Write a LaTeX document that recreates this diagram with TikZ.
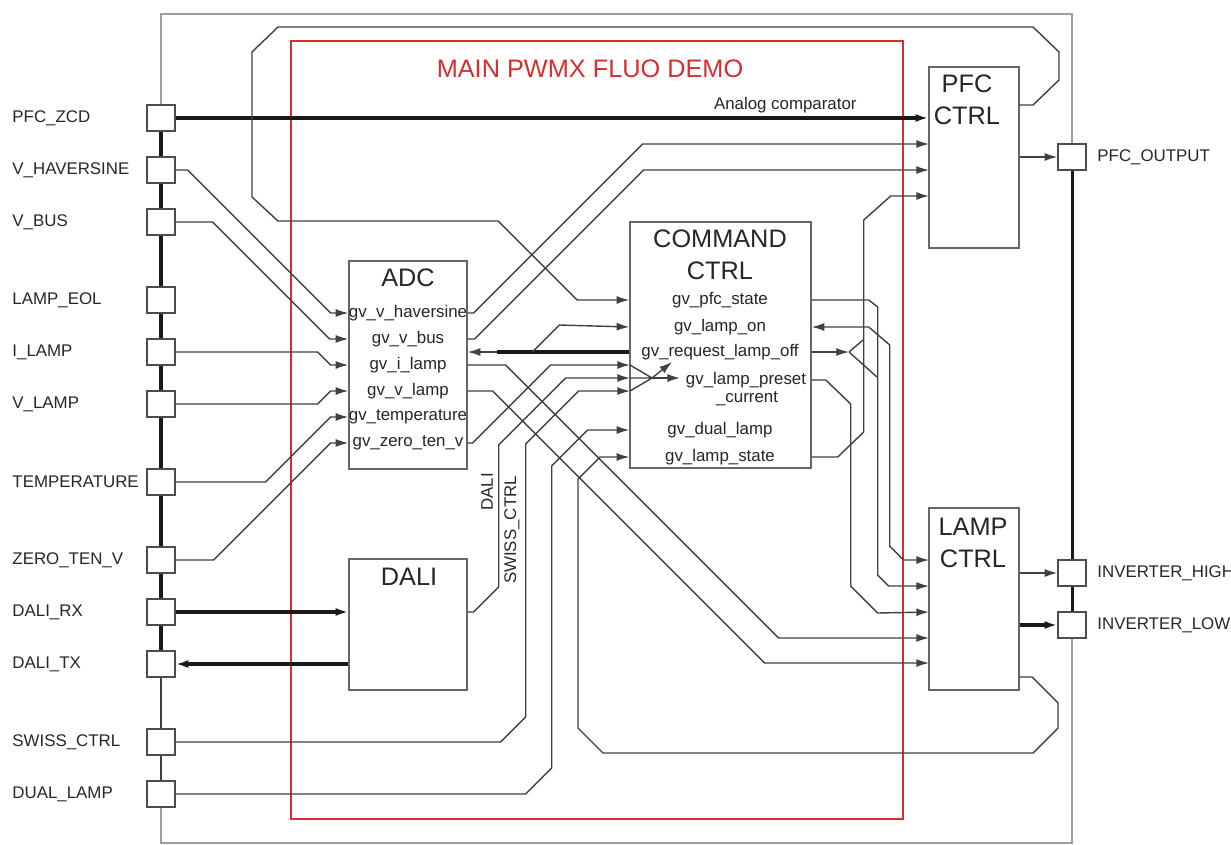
\documentclass[tikz,border=0pt]{standalone}
\usepackage{fontspec}
\setmainfont{Liberation Sans}
\usepackage{tikz}
\usetikzlibrary{arrows.meta, positioning}

\definecolor{demored}{RGB}{214,45,45}

\begin{document}
\begin{tikzpicture}[
    x=0.15mm, y=-0.15mm,
    font=\fontsize{7.2}{8.6}\selectfont,
    blk/.style={draw=black!60, line width=0.6pt, fill=white, inner sep=0pt},
    ttl/.style={font=\fontsize{10.8}{13.6}\selectfont, text=black!85, align=center, inner sep=0pt},
    port/.style={draw=black!70, line width=0.6pt, fill=white, minimum width=4.2mm,
                 minimum height=3.9mm, inner sep=0pt},
    plab/.style={anchor=west, text=black!85, inner sep=0pt},
    sig/.style={text=black!85, inner sep=0pt},
    wire/.style={draw=black!75, line width=0.6pt},
    thk/.style={draw=black!90, line width=1.3pt},
    arr/.style={-{Latex[length=1.9mm, width=1.2mm]}}
]

\useasboundingbox (0,0) rectangle (1231,844);

% chip outline and demo frame
\draw[black!38, line width=0.6pt] (161,14) rectangle (1072,843);
\draw[demored, line width=0.6pt] (291,41) rectangle (903,819);
\node[ttl, text=demored] (demo) at (590,69) {MAIN PWMX FLUO DEMO};

% pins
\foreach \nm/\txt/\yy in {zcd/PFC\_ZCD/118, hav/V\_HAVERSINE/170, bus/V\_BUS/222,
        eol/LAMP\_EOL/300, ilamp/I\_LAMP/352, vlamp/V\_LAMP/404, temp/TEMPERATURE/482,
        zero/ZERO\_TEN\_V/560, rx/DALI\_RX/612, tx/DALI\_TX/664, swiss/SWISS\_CTRL/742,
        dual/DUAL\_LAMP/794} {
    \node[port] (p-\nm) at (161,\yy) {};
    \node[plab] at (12,\yy) {\txt};
}
\foreach \nm/\txt/\yy in {pfco/PFC\_OUTPUT/157, invh/INVERTER\_HIGH/573, invl/INVERTER\_LOW/625} {
    \node[port] (p-\nm) at (1072,\yy) {};
    \node[plab] at (1097,\yy) {\txt};
}

% pin buses
\foreach \a/\b in {zcd/hav, hav/bus, bus/eol, eol/ilamp, ilamp/vlamp, vlamp/temp, temp/zero,
        zero/rx, rx/tx}
    \draw[thk] (p-\a.south) -- (p-\b.north);
\draw[wire] (p-tx.south) -- (p-swiss.north);
\draw[wire] (p-swiss.south) -- (p-dual.north);
\draw[thk] (p-pfco.south) -- (p-invh.north);
\draw[thk] (p-invh.south) -- (p-invl.north);

% blocks
\node[blk, minimum width=17.7mm, minimum height=31.2mm]   (adc)  at (408,365)   {};
\node[blk, minimum width=17.7mm, minimum height=19.65mm]  (dali) at (408,624.5) {};
\node[blk, minimum width=27.15mm, minimum height=36.9mm]  (cmd)  at (720.5,345) {};
\node[blk, minimum width=13.5mm, minimum height=27.15mm]  (pfc)  at (974,157.5) {};
\node[blk, minimum width=13.5mm, minimum height=27.3mm]   (lamp) at (974,599)   {};

\node[ttl] at (408,278) {ADC};
\node[ttl] at (409,577) {DALI};
\node[ttl] at (720,255) {COMMAND\\CTRL};
\node[ttl] at (967,100) {PFC\\CTRL};
\node[ttl] at (973,543) {LAMP\\CTRL};

\foreach \nm/\txt/\yy in {hav/gv\_v\_haversine/313, bus/gv\_v\_bus/339, ilamp/gv\_i\_lamp/365,
        vlamp/gv\_v\_lamp/391, temp/gv\_temperature/417, zero/gv\_zero\_ten\_v/443}
    \node[sig] (a-\nm) at (408,\yy) {\txt};

\foreach \nm/\txt/\yy in {pfc/gv\_pfc\_state/300, on/gv\_lamp\_on/327,
        off/gv\_request\_lamp\_off/352, dual/gv\_dual\_lamp/430, state/gv\_lamp\_state/457}
    \node[sig] (c-\nm) at (720,\yy) {\txt};
\node[sig] (c-preset) at (746,380) {gv\_lamp\_preset};
\node[sig] (c-cur)    at (747,399) {\_current};

% block pins
\coordinate (pfc-in1) at (929,144);
\coordinate (pfc-in2) at (929,170);
\coordinate (pfc-in3) at (929,196);
\coordinate (pfc-lp)  at (1019,105);
\coordinate (lamp-in1) at (929,560);
\coordinate (lamp-in2) at (929,586);
\coordinate (lamp-in3) at (929,612);
\coordinate (lamp-in4) at (929,638);
\coordinate (lamp-in5) at (929,663);
\coordinate (lamp-lp)  at (1019,677);
\coordinate (ci-a) at (630,365);
\coordinate (ci-b) at (630,378);
\coordinate (ci-c) at (630,391);
\coordinate (mrg)   at (652,378);
\coordinate (split) at (849,352);

% pins -> ADC
\draw[wire, arr] (p-hav.east) -- ++(12,0) -- ++(143,143) -- (adc.west |- a-hav);
\draw[wire, arr] (p-bus.east) -- ++(37,0) -- ++(117,117) -- (adc.west |- a-bus);
\draw[wire, arr] (p-ilamp.east) -- ++(142,0) -- ++(13,13) -- (adc.west |- a-ilamp);
\draw[wire, arr] (p-vlamp.east) -- ++(142,0) -- ++(13,-13) -- (adc.west |- a-vlamp);
\draw[wire, arr] (p-temp.east) -- ++(90,0) -- ++(65,-65) -- (adc.west |- a-temp);
\draw[wire, arr] (p-zero.east) -- ++(38,0) -- ++(117,-117) -- (adc.west |- a-zero);

% PFC_ZCD and DALI pins
\draw[thk, arr] (p-zcd.east) -- node[sig, above=0.5mm, pos=0.81] {Analog comparator} (pfc.west |- p-zcd);
\draw[thk, arr] (p-rx.east) -- (dali.west |- p-rx);
\draw[thk, arr] (dali.west |- p-tx) -- (p-tx.east);

% DALI, SWISS_CTRL, DUAL_LAMP -> COMMAND CTRL
\draw[wire, arr] (dali.east |- p-rx) -- ++(6,0) -- ++(25,-25) -- ++(0,-142) -- ++(67,-67) -- (ci-b);
\draw[wire, arr] (p-swiss.east) -- ++(325,0) -- ++(25,-25) -- ++(0,-273) -- ++(53,-53) -- (ci-c);
\draw[wire, arr] (p-dual.east) -- ++(350,0) -- ++(26,-26) -- ++(0,-302) -- ++(36,-36) -- (cmd.west |- c-dual);
\node[sig, rotate=90] at (487,492) {DALI};
\node[sig, rotate=90] at (512,530) {SWISS\_CTRL};

% ADC outputs
\draw[wire, arr] (adc.east |- a-hav) -- ++(6,0) -- ++(169,-169) -- (pfc-in1);
\draw[wire, arr] (adc.east |- a-bus) -- ++(7,0) -- ++(169,-169) -- (pfc-in2);
\draw[wire, arr] (adc.east |- a-ilamp) -- ++(38,0) -- ++(273,273) -- (lamp-in4);
\draw[wire, arr] (adc.east |- a-vlamp) -- ++(25,0) -- ++(272,272) -- (lamp-in5);
\draw[wire, arr] (adc.east |- a-zero) -- ++(5,0) -- ++(78,-78) -- (ci-a);

% merge inside COMMAND CTRL
\draw[wire] (ci-a) -- (mrg) (ci-b) -- (mrg) (ci-c) -- (mrg);
\draw[wire, arr] (mrg) -- ++(20,-16);
\draw[wire, arr] (mrg) -- ++(28,0);

% request lamp off
\draw[wire, arr] (cmd.west |- c-off) -- (adc.east |- c-off);
\draw[thk] (cmd.west |- c-off) -- ++(-132,0);
\draw[wire, arr] (cmd.west |- c-off) ++(-97,0) -- ++(27,-27) -- (cmd.west |- c-on);
\draw[wire, arr] (cmd.east |- c-off) -- (split);
\draw[wire] (split) -- (863,340) (split) -- (877,377);

% COMMAND CTRL -> LAMP CTRL / PFC CTRL
\draw[wire, {Latex[length=1.9mm, width=1.2mm]}-{Latex[length=1.9mm, width=1.2mm]}]
    (cmd.east |- c-on) -- ++(57,0) -- ++(21,18) -- ++(0,201) -- ++(14,14) -- (lamp-in1);
\draw[wire, arr] (cmd.east |- c-pfc) -- ++(57,0) -- ++(9,7) -- ++(0,268) -- ++(11,11) -- (lamp-in2);
\draw[wire, arr] (cmd.east |- c-preset) -- ++(14,0) -- ++(25,24) -- ++(0,182) -- ++(27,27) -- (lamp-in3);
\draw[wire, arr] (cmd.east |- c-state) -- ++(26,0) -- ++(26,-25) -- ++(0,-212) -- ++(27,-24) -- (pfc-in3);

% feedback loops
\draw[wire, arr] (pfc-lp) -- ++(14,0) -- ++(26,-25) -- ++(0,-28) -- ++(-26,-25) -- ++(-755,0)
    -- ++(-26,25) -- ++(0,145) -- ++(26,24) -- ++(220,0) -- ++(79,79) -- (cmd.west |- c-pfc);
\draw[wire, arr] (lamp-lp) -- ++(13,0) -- ++(26,26) -- ++(0,25) -- ++(-25,25) -- ++(-430,0)
    -- ++(-25,-25) -- ++(0,-249) -- ++(22,-22) -- (cmd.west |- c-state);

% outputs
\draw[wire, arr] (pfc.east |- p-pfco) -- (p-pfco.west);
\draw[wire, arr] (lamp.east |- p-invh) -- (p-invh.west);
\draw[thk, arr] (lamp.east |- p-invl) -- (p-invl.west);

\end{tikzpicture}
\end{document}
